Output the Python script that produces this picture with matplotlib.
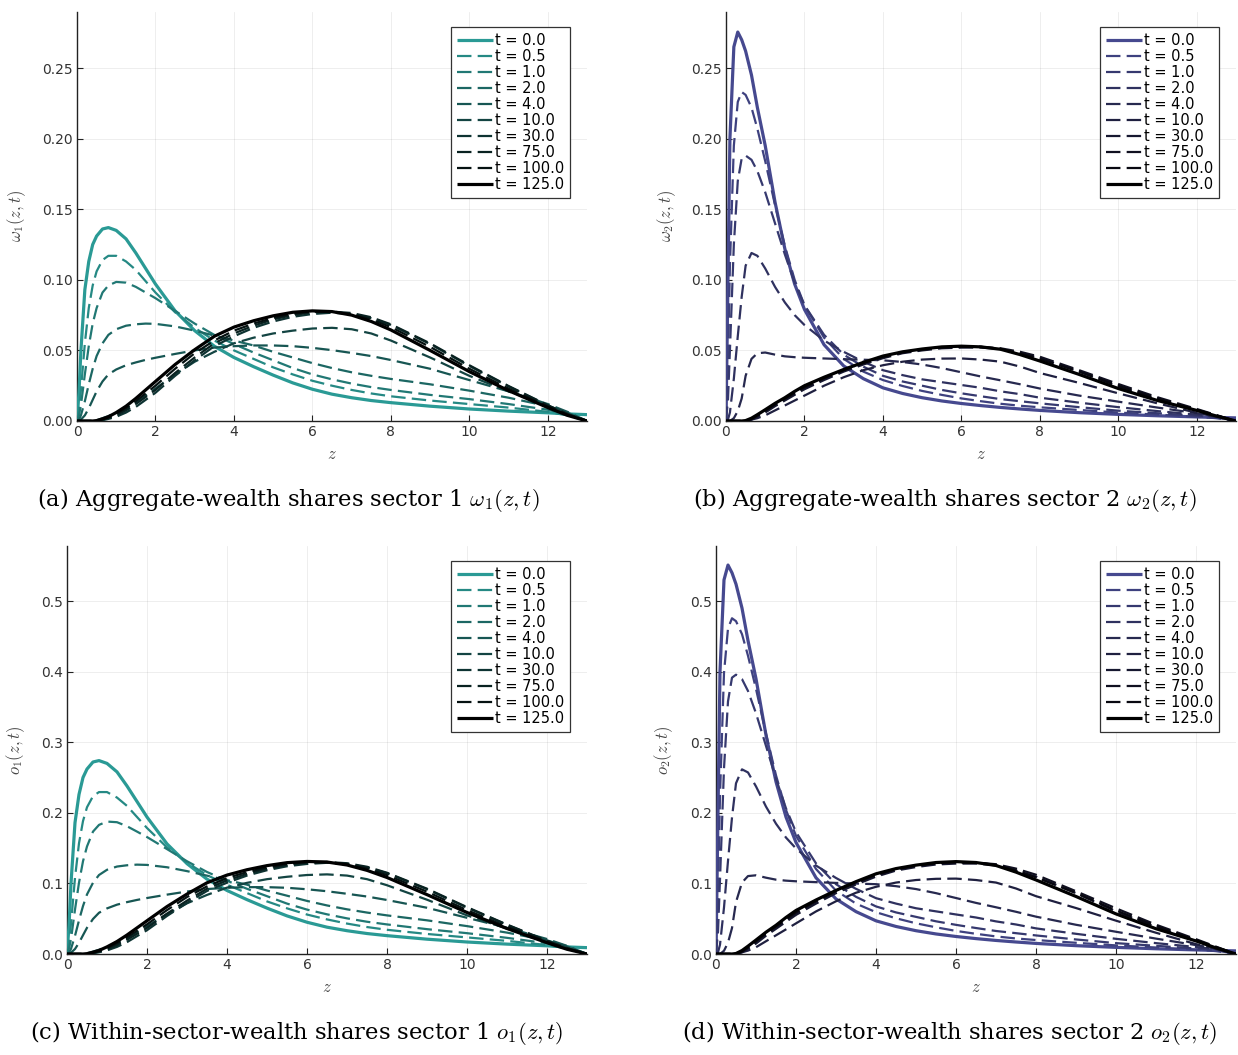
import matplotlib
matplotlib.use("Agg")
import matplotlib.pyplot as plt
from matplotlib.colors import to_rgb
from matplotlib.ticker import FormatStrFormatter

plt.rcParams["mathtext.fontset"] = "cm"

# ── data ────────────────────────────────────────────────────────────────────
Z = [0, 0.05, 0.1, 0.2, 0.3, 0.4, 0.5, 0.65, 0.8, 1.0, 1.25, 1.5, 1.75, 2.0,
     2.5, 3.0, 3.5, 4.0, 4.5, 5.0, 5.5, 6.0, 6.5, 7.0, 7.5, 8.0, 9.0, 10.0,
     11.0, 12.0, 12.5, 13.0]

T_VALUES = [0.0, 0.5, 1.0, 2.0, 4.0, 10.0, 30.0, 75.0, 100.0, 125.0]

# (a) aggregate-wealth shares, sector 1
OMEGA1 = [
    [0, 0.02, 0.05, 0.093, 0.113, 0.125, 0.131, 0.136, 0.137, 0.135, 0.129, 0.119, 0.108, 0.097,
     0.078, 0.064, 0.053, 0.045, 0.0385, 0.0325, 0.027, 0.0225, 0.019, 0.0165, 0.0145, 0.013,
     0.0105, 0.0085, 0.007, 0.0058, 0.005, 0.0045],
    [0, 0.008, 0.022, 0.055, 0.08, 0.096, 0.106, 0.114, 0.117, 0.117, 0.113, 0.107, 0.099, 0.091,
     0.077, 0.066, 0.057, 0.050, 0.044, 0.038, 0.033, 0.0285, 0.025, 0.022, 0.0195, 0.0175,
     0.0145, 0.012, 0.0095, 0.0065, 0.004, 0],
    [0, 0.004, 0.011, 0.033, 0.053, 0.069, 0.080, 0.091, 0.096, 0.0985, 0.098, 0.095, 0.091, 0.087,
     0.078, 0.069, 0.061, 0.0545, 0.0485, 0.043, 0.0375, 0.033, 0.0295, 0.0265, 0.024, 0.022,
     0.0185, 0.0155, 0.012, 0.008, 0.0045, 0],
    [0, 0.001, 0.004, 0.014, 0.026, 0.037, 0.046, 0.055, 0.061, 0.065, 0.0675, 0.0685, 0.069, 0.0688,
     0.067, 0.064, 0.0605, 0.057, 0.0535, 0.049, 0.045, 0.041, 0.0375, 0.0345, 0.032, 0.0298,
     0.026, 0.0215, 0.0165, 0.0105, 0.006, 0],
    [0, 0, 0.001, 0.004, 0.009, 0.015, 0.021, 0.028, 0.033, 0.0365, 0.0395, 0.0415, 0.0433, 0.0448,
     0.0475, 0.050, 0.052, 0.053, 0.0535, 0.0535, 0.053, 0.0518, 0.0502, 0.0482, 0.046, 0.0432,
     0.037, 0.029, 0.021, 0.012, 0.0065, 0],
    [0, 0, 0, 0, 0, 0, 0.0005, 0.002, 0.0035, 0.006, 0.009, 0.013, 0.018, 0.023,
     0.033, 0.042, 0.049, 0.055, 0.059, 0.062, 0.064, 0.0655, 0.066, 0.065, 0.062, 0.057,
     0.045, 0.032, 0.021, 0.011, 0.0055, 0],
    [0, 0, 0, 0, 0, 0, 0, 0.0005, 0.0015, 0.003, 0.006, 0.010, 0.015, 0.020,
     0.032, 0.043, 0.053, 0.060, 0.066, 0.0705, 0.0738, 0.0758, 0.0767, 0.0758, 0.0728, 0.068,
     0.0545, 0.039, 0.0245, 0.011, 0.005, 0],
    [0, 0, 0, 0, 0, 0, 0, 0.001, 0.002, 0.004, 0.0075, 0.012, 0.017, 0.022,
     0.034, 0.045, 0.055, 0.062, 0.0675, 0.072, 0.075, 0.077, 0.0775, 0.0765, 0.0735, 0.0685,
     0.055, 0.0395, 0.0248, 0.0112, 0.005, 0],
    [0, 0, 0, 0, 0, 0, 0, 0.0012, 0.0025, 0.005, 0.009, 0.014, 0.0195, 0.025,
     0.037, 0.048, 0.057, 0.064, 0.069, 0.073, 0.076, 0.0775, 0.0775, 0.0755, 0.072, 0.0665,
     0.0525, 0.037, 0.023, 0.0103, 0.0045, 0],
    [0, 0, 0, 0, 0, 0, 0.0003, 0.0015, 0.003, 0.006, 0.0105, 0.016, 0.022, 0.028,
     0.040, 0.0505, 0.060, 0.0665, 0.071, 0.0745, 0.077, 0.078, 0.0775, 0.075, 0.0705, 0.0645,
     0.050, 0.035, 0.0215, 0.0095, 0.004, 0],
]

# (b) aggregate-wealth shares, sector 2
OMEGA2 = [
    [0, 0.10, 0.20, 0.265, 0.2755, 0.270, 0.262, 0.245, 0.222, 0.195, 0.155, 0.122, 0.097, 0.079,
     0.054, 0.039, 0.030, 0.0235, 0.0195, 0.0165, 0.0142, 0.0124, 0.0109, 0.0096, 0.0085, 0.0075,
     0.0059, 0.0047, 0.0037, 0.0029, 0.0025, 0.0022],
    [0, 0.04, 0.11, 0.195, 0.226, 0.233, 0.231, 0.222, 0.207, 0.184, 0.153, 0.124, 0.100, 0.082,
     0.059, 0.044, 0.035, 0.029, 0.0248, 0.0213, 0.0185, 0.016, 0.014, 0.0122, 0.0108, 0.0097,
     0.0078, 0.006, 0.0045, 0.003, 0.002, 0],
    [0, 0.015, 0.05, 0.125, 0.17, 0.186, 0.188, 0.185, 0.177, 0.162, 0.140, 0.118, 0.098, 0.082,
     0.061, 0.047, 0.0385, 0.032, 0.028, 0.025, 0.022, 0.0196, 0.0175, 0.0155, 0.014, 0.0125,
     0.0098, 0.0073, 0.0055, 0.0037, 0.0025, 0],
    [0, 0.001, 0.006, 0.03, 0.06, 0.088, 0.110, 0.119, 0.117, 0.108, 0.095, 0.084, 0.075, 0.068,
     0.057, 0.049, 0.042, 0.036, 0.0325, 0.0295, 0.0275, 0.0255, 0.0235, 0.021, 0.019, 0.0165,
     0.013, 0.0098, 0.007, 0.0045, 0.003, 0],
    [0, 0, 0, 0.002, 0.007, 0.016, 0.032, 0.044, 0.048, 0.0485, 0.047, 0.0458, 0.0452, 0.0448,
     0.0443, 0.0438, 0.0434, 0.043, 0.0418, 0.040, 0.0375, 0.0345, 0.0315, 0.0288, 0.026, 0.023,
     0.018, 0.0137, 0.0095, 0.0055, 0.0035, 0],
    [0, 0, 0, 0, 0, 0, 0, 0.001, 0.002, 0.004, 0.0075, 0.011, 0.0145, 0.018,
     0.025, 0.031, 0.036, 0.0395, 0.042, 0.0435, 0.0442, 0.0443, 0.0435, 0.042, 0.0385, 0.034,
     0.027, 0.0196, 0.0125, 0.0058, 0.003, 0],
    [0, 0, 0, 0, 0, 0, 0, 0.001, 0.003, 0.006, 0.0105, 0.0145, 0.0185, 0.0225,
     0.029, 0.035, 0.040, 0.0445, 0.048, 0.050, 0.0515, 0.052, 0.052, 0.051, 0.048, 0.0445,
     0.035, 0.0245, 0.0155, 0.0078, 0.0037, 0],
    [0, 0, 0, 0, 0, 0, 0, 0.0012, 0.0035, 0.007, 0.0115, 0.0155, 0.0195, 0.0235,
     0.030, 0.036, 0.041, 0.045, 0.0485, 0.0505, 0.052, 0.0525, 0.0525, 0.0515, 0.049, 0.0455,
     0.036, 0.0262, 0.0168, 0.0085, 0.0042, 0],
    [0, 0, 0, 0, 0, 0, 0, 0.0015, 0.004, 0.0075, 0.012, 0.016, 0.020, 0.024,
     0.0305, 0.0362, 0.0413, 0.0455, 0.0488, 0.0508, 0.0522, 0.0528, 0.0525, 0.051, 0.048, 0.044,
     0.035, 0.025, 0.016, 0.008, 0.004, 0],
    [0, 0, 0, 0, 0, 0, 0.0003, 0.002, 0.0045, 0.008, 0.0125, 0.0165, 0.021, 0.025,
     0.031, 0.0365, 0.0415, 0.046, 0.049, 0.051, 0.0525, 0.053, 0.0525, 0.0508, 0.047, 0.0425,
     0.033, 0.023, 0.0145, 0.0075, 0.0035, 0],
]

# (c) within-sector-wealth shares, sector 1
O1 = [
    [0, 0.04, 0.10, 0.186, 0.226, 0.25, 0.262, 0.272, 0.274, 0.27, 0.258, 0.238, 0.216, 0.194,
     0.156, 0.128, 0.106, 0.09, 0.077, 0.065, 0.054, 0.045, 0.038, 0.033, 0.029, 0.026,
     0.021, 0.017, 0.014, 0.0116, 0.01, 0.009],
    [0, 0.0157, 0.0431, 0.1079, 0.1569, 0.1883, 0.2079, 0.2236, 0.2294, 0.2294, 0.2216, 0.2098,
     0.1941, 0.1785, 0.151, 0.1294, 0.1118, 0.0981, 0.0863, 0.0745, 0.0647, 0.0559, 0.049,
     0.0431, 0.0382, 0.0343, 0.0284, 0.0235, 0.0186, 0.0127, 0.0078, 0],
    [0, 0.0076, 0.021, 0.0629, 0.101, 0.1314, 0.1524, 0.1734, 0.1829, 0.1876, 0.1867, 0.181,
     0.1734, 0.1657, 0.1486, 0.1314, 0.1162, 0.1038, 0.0924, 0.0819, 0.0714, 0.0629, 0.0562,
     0.0505, 0.0457, 0.0419, 0.0352, 0.0295, 0.0229, 0.0152, 0.0086, 0],
    [0, 0.0018, 0.0073, 0.0257, 0.0477, 0.0679, 0.0844, 0.1009, 0.1119, 0.1193, 0.1239, 0.1257,
     0.1266, 0.1262, 0.1229, 0.1174, 0.111, 0.1046, 0.0982, 0.0899, 0.0826, 0.0752, 0.0688,
     0.0633, 0.0587, 0.0547, 0.0477, 0.0395, 0.0303, 0.0193, 0.011, 0],
    [0, 0, 0.0018, 0.0071, 0.0159, 0.0266, 0.0372, 0.0496, 0.0584, 0.0646, 0.0699, 0.0735,
     0.0766, 0.0793, 0.0841, 0.0885, 0.092, 0.0938, 0.0947, 0.0947, 0.0938, 0.0917, 0.0889,
     0.0853, 0.0814, 0.0765, 0.0655, 0.0513, 0.0372, 0.0212, 0.0115, 0],
    [0, 0, 0, 0, 0, 0, 0.0009, 0.0034, 0.006, 0.0103, 0.0154, 0.0222, 0.0308, 0.0393,
     0.0564, 0.0718, 0.0837, 0.094, 0.1008, 0.106, 0.1094, 0.1119, 0.1128, 0.1111, 0.106,
     0.0974, 0.0769, 0.0547, 0.0359, 0.0188, 0.0094, 0],
    [0, 0, 0, 0, 0, 0, 0, 0.0008, 0.0025, 0.0051, 0.0101, 0.0168, 0.0253, 0.0337,
     0.0539, 0.0724, 0.0893, 0.101, 0.1111, 0.1187, 0.1243, 0.1276, 0.1292, 0.1276, 0.1226,
     0.1145, 0.0918, 0.0657, 0.0413, 0.0185, 0.0084, 0],
    [0, 0, 0, 0, 0, 0, 0, 0.0017, 0.0034, 0.0067, 0.0126, 0.0202, 0.0286, 0.037,
     0.0572, 0.0756, 0.0925, 0.1042, 0.1135, 0.121, 0.1261, 0.1294, 0.1303, 0.1286, 0.1236,
     0.1151, 0.0925, 0.0664, 0.0417, 0.0188, 0.0084, 0],
    [0, 0, 0, 0, 0, 0, 0, 0.002, 0.0042, 0.0084, 0.0151, 0.0235, 0.0328, 0.042,
     0.0622, 0.0807, 0.0958, 0.1076, 0.116, 0.1227, 0.1278, 0.1303, 0.1303, 0.1269, 0.121,
     0.1118, 0.0883, 0.0622, 0.0387, 0.0173, 0.0076, 0],
    [0, 0, 0, 0, 0, 0, 0.0005, 0.0025, 0.005, 0.0101, 0.0177, 0.0269, 0.037, 0.0471,
     0.0672, 0.0849, 0.1009, 0.1118, 0.1194, 0.1252, 0.1294, 0.1311, 0.1303, 0.1261, 0.1185,
     0.1084, 0.0841, 0.0588, 0.0361, 0.016, 0.0067, 0],
]

# (d) within-sector-wealth shares, sector 2
O2 = [
    [0, 0.20, 0.40, 0.53, 0.551, 0.54, 0.524, 0.49, 0.444, 0.39, 0.31, 0.244, 0.194, 0.158,
     0.108, 0.078, 0.06, 0.047, 0.039, 0.033, 0.0284, 0.0248, 0.0218, 0.0192, 0.017, 0.015,
     0.0118, 0.0094, 0.0074, 0.0058, 0.005, 0.0044],
    [0, 0.0816, 0.2245, 0.398, 0.4613, 0.4756, 0.4715, 0.4531, 0.4225, 0.3755, 0.3123, 0.2531,
     0.2041, 0.1674, 0.1204, 0.0898, 0.0714, 0.0592, 0.0506, 0.0435, 0.0378, 0.0327, 0.0286,
     0.0249, 0.022, 0.0198, 0.0159, 0.0122, 0.0092, 0.0061, 0.0041, 0],
    [0, 0.0316, 0.1053, 0.2631, 0.3579, 0.3915, 0.3957, 0.3894, 0.3726, 0.341, 0.2947, 0.2484,
     0.2063, 0.1726, 0.1284, 0.0989, 0.081, 0.0674, 0.0589, 0.0526, 0.0463, 0.0413, 0.0368,
     0.0326, 0.0295, 0.0263, 0.0206, 0.0154, 0.0116, 0.0078, 0.0053, 0],
    [0, 0.0022, 0.0132, 0.0659, 0.1319, 0.1934, 0.2418, 0.2616, 0.2572, 0.2374, 0.2088, 0.1846,
     0.1649, 0.1495, 0.1253, 0.1077, 0.0923, 0.0791, 0.0714, 0.0648, 0.0604, 0.056, 0.0517,
     0.0462, 0.0418, 0.0363, 0.0286, 0.0215, 0.0154, 0.0099, 0.0066, 0],
    [0, 0, 0, 0.0046, 0.0161, 0.0368, 0.0736, 0.1012, 0.1104, 0.1115, 0.1081, 0.1053, 0.1039,
     0.103, 0.1018, 0.1007, 0.0998, 0.0989, 0.0961, 0.092, 0.0862, 0.0793, 0.0724, 0.0662,
     0.0598, 0.0529, 0.0414, 0.0315, 0.0218, 0.0126, 0.008, 0],
    [0, 0, 0, 0, 0, 0, 0, 0.0024, 0.0048, 0.0096, 0.0181, 0.0265, 0.0349, 0.0434,
     0.0603, 0.0747, 0.0868, 0.0952, 0.1012, 0.1048, 0.1065, 0.1068, 0.1048, 0.1012, 0.0928,
     0.0819, 0.0651, 0.0472, 0.0301, 0.014, 0.0072, 0],
    [0, 0, 0, 0, 0, 0, 0, 0.0025, 0.0074, 0.0148, 0.0259, 0.0357, 0.0456, 0.0554,
     0.0714, 0.0862, 0.0985, 0.1096, 0.1182, 0.1232, 0.1268, 0.1281, 0.1281, 0.1256, 0.1182,
     0.1096, 0.0862, 0.0603, 0.0382, 0.0192, 0.0091, 0],
    [0, 0, 0, 0, 0, 0, 0, 0.003, 0.0086, 0.0173, 0.0284, 0.0383, 0.0481, 0.058,
     0.0741, 0.0889, 0.1012, 0.1111, 0.1197, 0.1247, 0.1284, 0.1296, 0.1296, 0.1272, 0.121,
     0.1123, 0.0889, 0.0647, 0.0415, 0.021, 0.0104, 0],
    [0, 0, 0, 0, 0, 0, 0, 0.0037, 0.0099, 0.0185, 0.0296, 0.0395, 0.0494, 0.0593,
     0.0753, 0.0894, 0.102, 0.1123, 0.1205, 0.1254, 0.1289, 0.1304, 0.1296, 0.1259, 0.1185,
     0.1086, 0.0864, 0.0617, 0.0395, 0.0198, 0.0099, 0],
    [0, 0, 0, 0, 0, 0, 0.0007, 0.0049, 0.0111, 0.0198, 0.0309, 0.0407, 0.0518, 0.0617,
     0.0765, 0.0901, 0.1025, 0.1136, 0.121, 0.1259, 0.1296, 0.1309, 0.1296, 0.1254, 0.116,
     0.1049, 0.0815, 0.0568, 0.0358, 0.0185, 0.0086, 0],
]

# ── styling ────────────────────────────────────────────────────────────────
TEAL = "#2a9a95"
BLUE = "#46498f"
TICK_COLOR = "#333333"


def shades(base):
    # base colour fading linearly to black across the time steps
    r, g, b = to_rgb(base)
    n = len(T_VALUES)
    out = []
    for i in range(n):
        f = 1 - i / (n - 1)
        out.append((r * f, g * f, b * f))
    return out


PANELS = [
    # data, colour, ylabel, ylim top, yticks, fmt, rect(px: left, top, right, bottom), label x
    (OMEGA1, TEAL, r"$\omega_1(z, t)$", 0.2897, [0, 0.05, 0.10, 0.15, 0.20, 0.25], "%.2f",
     (77, 12, 587, 421), -0.097),
    (OMEGA2, BLUE, r"$\omega_2(z, t)$", 0.2897, [0, 0.05, 0.10, 0.15, 0.20, 0.25], "%.2f",
     (726, 12, 1236, 421), -0.095),
    (O1, TEAL, r"$o_1(z, t)$", 0.578, [0, 0.1, 0.2, 0.3, 0.4, 0.5], "%.1f",
     (67, 546, 587, 954), -0.077),
    (O2, BLUE, r"$o_2(z, t)$", 0.578, [0, 0.1, 0.2, 0.3, 0.4, 0.5], "%.1f",
     (716, 546, 1236, 954), -0.079),
]

CAPTIONS = [
    (288, 506, r"(a) Aggregate-wealth shares sector 1 $\omega_1(z, t)$"),
    (945, 506, r"(b) Aggregate-wealth shares sector 2 $\omega_2(z, t)$"),
    (297, 1039, r"(c) Within-sector-wealth shares sector 1 $o_1(z, t)$"),
    (950, 1039, r"(d) Within-sector-wealth shares sector 2 $o_2(z, t)$"),
]

W, H = 1238, 1055
fig = plt.figure(figsize=(W / 100, H / 100), dpi=100)

for data, base, ylab, ytop, yticks, fmt, (l, t, r, b), lx in PANELS:
    ax = fig.add_axes([l / W, 1 - b / H, (r - l) / W, (b - t) / H])
    cols = shades(base)
    n = len(T_VALUES)
    for i, (tv, ys) in enumerate(zip(T_VALUES, data)):
        lab = f"t = {tv:.1f}"
        if i == 0 or i == n - 1:
            ax.plot(Z, ys, color=cols[i], lw=2.3, label=lab, zorder=3 + i,
                    solid_capstyle="butt")
        else:
            ax.plot(Z, ys, color=cols[i], lw=1.6, label=lab, zorder=3 + i,
                    dashes=(6.5, 2.8), dash_capstyle="butt")

    ax.set_xlim(0, 13)
    ax.set_ylim(0, ytop)
    ax.set_xticks([0, 2, 4, 6, 8, 10, 12])
    ax.set_yticks(yticks)
    ax.yaxis.set_major_formatter(FormatStrFormatter(fmt))
    ax.grid(True, color="black", alpha=0.08, lw=0.6)
    ax.set_axisbelow(True)
    for s in ("top", "right"):
        ax.spines[s].set_visible(False)
    for s in ("left", "bottom"):
        ax.spines[s].set_linewidth(1.0)
        ax.spines[s].set_color("#222222")
    ax.tick_params(direction="in", length=4, width=0.8, color="#222222",
                   labelsize=10, labelcolor=TICK_COLOR, pad=3)

    ax.set_ylabel(ylab, fontsize=12, color="#444444")
    ax.yaxis.set_label_coords(lx, 0.5)
    ax.set_xlabel(r"$z$", fontsize=12, color="#444444", labelpad=4)

    leg = ax.legend(loc="upper right", bbox_to_anchor=(1 - 17 / (r - l), 1 - 15 / (b - t)),
                    borderaxespad=0, fontsize=10.5, frameon=True, fancybox=False,
                    framealpha=1, edgecolor="#333333", handlelength=2.5,
                    handletextpad=0.1, labelspacing=0.07, borderpad=0.42)
    leg.get_frame().set_linewidth(0.9)

for cx, cy, txt in CAPTIONS:
    fig.text(cx / W, 1 - cy / H, txt, ha="center", va="baseline", fontsize=16.3,
             family="DejaVu Serif")

fig.savefig("out.png", dpi=100)
